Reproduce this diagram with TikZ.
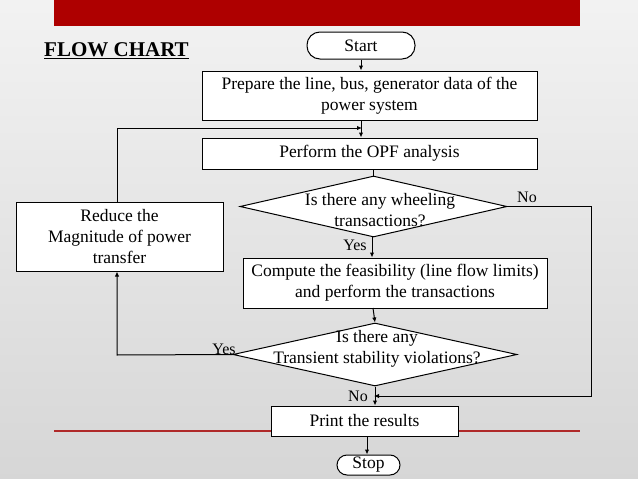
\documentclass[tikz,border=0pt]{standalone}
\usepackage{fontspec}
\setmainfont{Liberation Serif}
\usetikzlibrary{arrows.meta,shapes.geometric}
\definecolor{barred}{HTML}{AE0000}
\definecolor{linered}{HTML}{B02A2A}
\begin{document}
\begin{tikzpicture}[x=1pt,y=-1pt,
  every node/.style={font=\fontsize{17.5}{21}\selectfont},
  box/.style={draw=black, line width=1pt, fill=white, inner sep=0pt, align=center},
  term/.style={draw=black, line width=1pt, fill=white, rounded corners=12pt, inner sep=0pt},
  dia/.style={draw=black, line width=1pt, fill=white, diamond, inner sep=0pt, shape aspect=1},
  conn/.style={draw=black, line width=1pt},
  arr/.style={conn, -{Latex[length=5pt,width=4.5pt]}},
  lbl/.style={inner sep=0pt, font=\fontsize{16}{18}\selectfont}]
% background
\shade[top color=white!95!black, bottom color=white!84!black] (0,0) rectangle (638,479);
\useasboundingbox (0,0) rectangle (638,479);
% red bar
\fill[barred] (54,0) rectangle (580,26);
% bottom red line
\coordinate (rl) at (54,431);
\coordinate (rr) at (580,431);
\draw[linered, line width=2pt] (rl) -- (rr);
% title
\node[inner sep=0pt, anchor=west, font=\fontsize{21}{23}\selectfont\bfseries] (title) at (44,51) {\underline{FLOW CHART}};
% nodes
\node[term, minimum width=108pt, minimum height=27pt, rounded corners=13pt] (start) at (361,45.5) {Start};
\node[box, minimum width=335pt, minimum height=49pt] (prep) at (369.5,95.5) {Prepare the line, bus, generator data of the\\power system};
\node[box, minimum width=335pt, minimum height=31pt] (opf) at (369.5,153.5) {Perform the OPF analysis};
\node[dia, minimum width=267pt, minimum height=61pt] (d1) at (373.5,206.5) {};
\node[inner sep=0pt, align=center] (d1t) at (380,210) {Is there any wheeling\\transactions?};
\node[box, minimum width=207pt, minimum height=69pt] (red) at (119.5,236.5) {Reduce the\\Magnitude of power\\transfer};
\node[box, minimum width=304pt, minimum height=50pt] (comp) at (395,283) {Compute the feasibility (line flow limits)\\and perform the transactions};
\node[dia, minimum width=284pt, minimum height=63pt] (d2) at (375,354.5) {};
\node[inner sep=0pt, align=center] (d2t) at (377,349) {Is there any\\Transient stability violations?};
\node[box, minimum width=187pt, minimum height=30pt] (print) at (364.5,421) {Print the results};
\node[term, minimum width=63pt, minimum height=20pt, rounded corners=10pt] (stop) at (368.5,465) {Stop};
% labels
\node[lbl] (no1) at (527,197) {No};
\node[lbl] (yes1) at (355,245) {Yes};
\node[lbl] (yes2) at (224,349) {Yes};
\node[lbl] (no2) at (358,396) {No};
% connectors
\draw[arr] (start.south) -- (start.south |- prep.north);
\draw[arr] (prep.south -| start.south) -- (opf.north -| start.south);
\coordinate (loopc) at (117,128);
\coordinate (loope) at (362,128);
\draw[arr] (red.north -| loopc) -- (loopc) -- (loope);
\draw[conn] (opf.south -| d1.north) -- (d1.north);
\coordinate (y1top) at (372,237);
\draw[arr] (y1top) -- (y1top |- comp.north);
\coordinate (c2) at (373,308);
\draw[arr] (c2) -- (d2.north);
\coordinate (nr) at (591, 206.5);
\coordinate (nb) at (591, 396);
\coordinate (ne) at (374, 396);
\draw[arr] (d1.east) -- (nr) -- (nb) -- (ne);
\draw[arr] (d2.south) -- (d2.south |- print.north);
\coordinate (yl) at (117,355);
\draw[arr] (d2.west) -- (yl) -- (yl |- red.south);
\draw[arr] (print.south -| 367,0) -- (stop.north -| 367,0);
\end{tikzpicture}
\end{document}
